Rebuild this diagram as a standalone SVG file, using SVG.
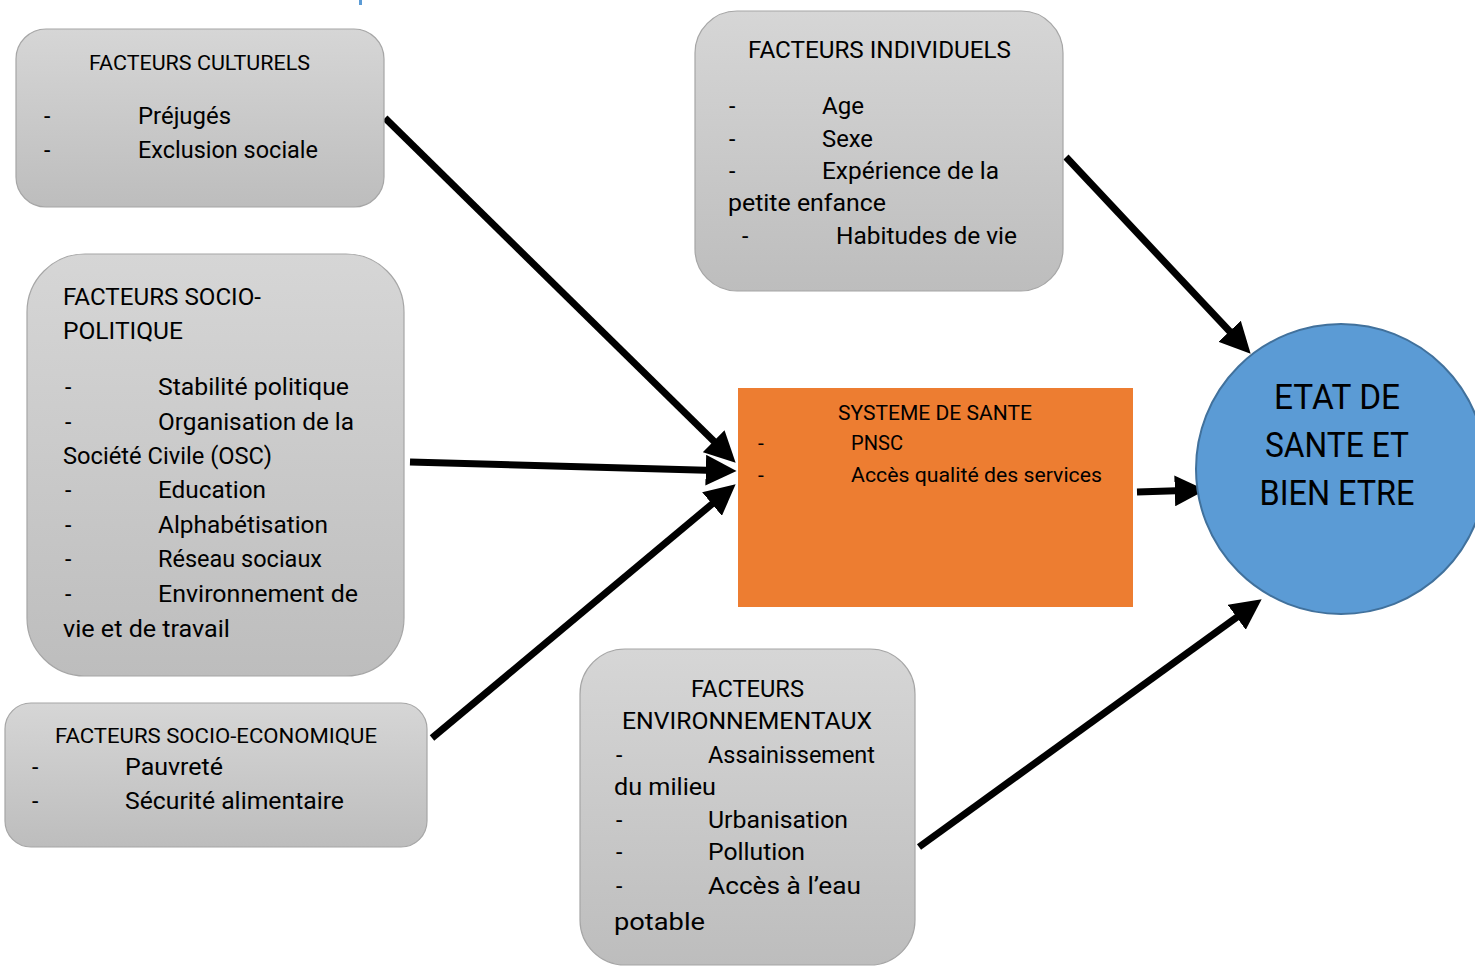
<svg xmlns="http://www.w3.org/2000/svg" width="1475" height="967" viewBox="0 0 1475 967">
<defs>
<linearGradient id="g" x1="0" y1="0" x2="0" y2="1">
<stop offset="0" stop-color="#d6d6d6"/>
<stop offset="1" stop-color="#bdbdbd"/>
</linearGradient>
<marker id="ah" viewBox="0 0 10 10" refX="3" refY="5" markerWidth="4.4" markerHeight="4.4" orient="auto">
<path d="M0,0 L10,5 L0,10 z" fill="#000"/>
</marker>
<style>
.box{fill:url(#g);stroke:#a6a6a6;stroke-width:1.2}
.t{font-family:Roboto,"Liberation Sans",sans-serif;fill:#000}
.b{font-size:23px}
.h{font-size:21px}
.c{font-size:35px;text-anchor:middle}
.con{stroke:#000;stroke-width:7;fill:none;marker-end:url(#ah)}
</style>
</defs>
<rect x="359" y="0" width="3" height="5" fill="#5b9bd5"/>
<g id="connectors">
<path class="con" d="M385,118 L720.3,447.6"/>
<path class="con" d="M410,462 L715,470.4"/>
<path class="con" d="M432,738 L719.1,498.1"/>
<path class="con" d="M1066,157 L1235.9,338"/>
<path class="con" d="M1137,492 L1184,490.6"/>
<path class="con" d="M919,847 L1244.2,611.9"/>
</g>
<g id="culturels">
<rect class="box" x="16" y="29" width="368" height="178" rx="30"/>
<text class="t h" x="89" y="70" textLength="221" lengthAdjust="spacingAndGlyphs">FACTEURS CULTURELS</text>
<text class="t b" x="44" y="124">-</text>
<text class="t b" x="138" y="124" textLength="93" lengthAdjust="spacingAndGlyphs">Préjugés</text>
<text class="t b" x="44" y="158">-</text>
<text class="t b" x="138" y="158" textLength="180" lengthAdjust="spacingAndGlyphs">Exclusion sociale</text>
</g>
<g id="individuels">
<rect class="box" x="695" y="11" width="368" height="280" rx="42"/>
<text class="t b" x="748" y="58" textLength="263" lengthAdjust="spacingAndGlyphs">FACTEURS INDIVIDUELS</text>
<text class="t b" x="729" y="114">-</text>
<text class="t b" x="822" y="114" textLength="42" lengthAdjust="spacingAndGlyphs">Age</text>
<text class="t b" x="729" y="147">-</text>
<text class="t b" x="822" y="147" textLength="51" lengthAdjust="spacingAndGlyphs">Sexe</text>
<text class="t b" x="729" y="179">-</text>
<text class="t b" x="822" y="179" textLength="177" lengthAdjust="spacingAndGlyphs">Expérience de la</text>
<text class="t b" x="728" y="211" textLength="158" lengthAdjust="spacingAndGlyphs">petite enfance</text>
<text class="t b" x="742" y="244">-</text>
<text class="t b" x="836" y="244" textLength="181" lengthAdjust="spacingAndGlyphs">Habitudes de vie</text>
</g>
<g id="sociopolitique">
<rect class="box" x="27" y="254" width="377" height="422" rx="58"/>
<text class="t b" x="63" y="305" textLength="198" lengthAdjust="spacingAndGlyphs">FACTEURS SOCIO-</text>
<text class="t b" x="63" y="339" textLength="120" lengthAdjust="spacingAndGlyphs">POLITIQUE</text>
<text class="t b" x="65" y="395">-</text>
<text class="t b" x="158" y="395" textLength="191" lengthAdjust="spacingAndGlyphs">Stabilité politique</text>
<text class="t b" x="65" y="430">-</text>
<text class="t b" x="158" y="430" textLength="196" lengthAdjust="spacingAndGlyphs">Organisation de la</text>
<text class="t b" x="63" y="464" textLength="209" lengthAdjust="spacingAndGlyphs">Société Civile (OSC)</text>
<text class="t b" x="65" y="498">-</text>
<text class="t b" x="158" y="498" textLength="108" lengthAdjust="spacingAndGlyphs">Education</text>
<text class="t b" x="65" y="533">-</text>
<text class="t b" x="158" y="533" textLength="170" lengthAdjust="spacingAndGlyphs">Alphabétisation</text>
<text class="t b" x="65" y="567">-</text>
<text class="t b" x="158" y="567" textLength="164" lengthAdjust="spacingAndGlyphs">Réseau sociaux</text>
<text class="t b" x="65" y="602">-</text>
<text class="t b" x="158" y="602" textLength="200" lengthAdjust="spacingAndGlyphs">Environnement de</text>
<text class="t b" x="63" y="637" textLength="167" lengthAdjust="spacingAndGlyphs">vie et de travail</text>
</g>
<g id="socioeconomique">
<rect class="box" x="5" y="703" width="422" height="144" rx="26"/>
<text class="t h" x="55" y="743" textLength="322" lengthAdjust="spacingAndGlyphs">FACTEURS SOCIO-ECONOMIQUE</text>
<text class="t b" x="32" y="775">-</text>
<text class="t b" x="125" y="775" textLength="98" lengthAdjust="spacingAndGlyphs">Pauvreté</text>
<text class="t b" x="32" y="809">-</text>
<text class="t b" x="125" y="809" textLength="219" lengthAdjust="spacingAndGlyphs">Sécurité alimentaire</text>
</g>
<g id="environnementaux">
<rect class="box" x="580" y="649" width="335" height="316" rx="45"/>
<text class="t b" x="691" y="697" textLength="113" lengthAdjust="spacingAndGlyphs">FACTEURS</text>
<text class="t b" x="622" y="729" textLength="250" lengthAdjust="spacingAndGlyphs">ENVIRONNEMENTAUX</text>
<text class="t b" x="616" y="763">-</text>
<text class="t b" x="708" y="763" textLength="167" lengthAdjust="spacingAndGlyphs">Assainissement</text>
<text class="t b" x="614" y="795" textLength="102" lengthAdjust="spacingAndGlyphs">du milieu</text>
<text class="t b" x="616" y="828">-</text>
<text class="t b" x="708" y="828" textLength="140" lengthAdjust="spacingAndGlyphs">Urbanisation</text>
<text class="t b" x="616" y="860">-</text>
<text class="t b" x="708" y="860" textLength="97" lengthAdjust="spacingAndGlyphs">Pollution</text>
<text class="t b" x="616" y="894">-</text>
<text class="t b" x="708" y="894" textLength="153" lengthAdjust="spacingAndGlyphs">Accès à l’eau</text>
<text class="t b" x="614" y="930" textLength="91" lengthAdjust="spacingAndGlyphs">potable</text>
</g>
<g id="systeme">
<rect x="738" y="388" width="395" height="219" fill="#ed7d31"/>
<text class="t h" x="838" y="420" textLength="194" lengthAdjust="spacingAndGlyphs">SYSTEME DE SANTE</text>
<text class="t h" x="758" y="450">-</text>
<text class="t h" x="851" y="450" textLength="52" lengthAdjust="spacingAndGlyphs">PNSC</text>
<text class="t h" x="758" y="482">-</text>
<text class="t h" x="851" y="482" textLength="251" lengthAdjust="spacingAndGlyphs">Accès qualité des services</text>
</g>
<g id="etat">
<circle cx="1341" cy="469" r="145" fill="#5b9bd5" stroke="#41719c" stroke-width="2"/>
<text class="t c" x="1337" y="409" textLength="126" lengthAdjust="spacingAndGlyphs">ETAT DE</text>
<text class="t c" x="1337" y="457" textLength="144" lengthAdjust="spacingAndGlyphs">SANTE ET</text>
<text class="t c" x="1337" y="505" textLength="155" lengthAdjust="spacingAndGlyphs">BIEN ETRE</text>
</g>
</svg>
